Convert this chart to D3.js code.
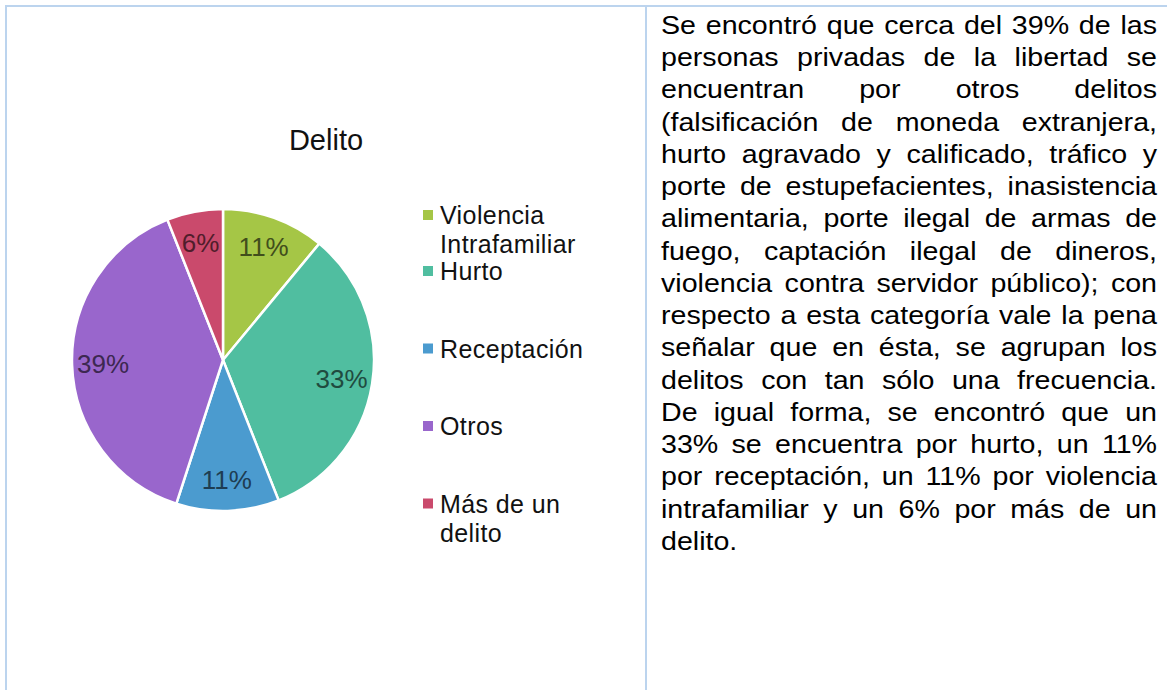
<!DOCTYPE html>
<html>
<head>
<meta charset="utf-8">
<script src="https://cdn.jsdelivr.net/npm/d3@7"></script>
<style>
  body { margin: 0; background: #fff; }
  svg { display: block; font-family: "Liberation Sans", Arial, sans-serif; }
</style>
</head>
<body>
<svg id="canvas"></svg>
<script>
// chart data
const categories = ['Violencia Intrafamiliar', 'Hurto', 'Receptación', 'Otros', 'Más de un delito'];
const legendLines = [['Violencia', 'Intrafamiliar'], ['Hurto'], ['Receptación'], ['Otros'], ['Más de un', 'delito']];
const percents = [11, 33, 11, 39, 6];
const colors = ['#a5c646', '#50bea0', '#4b9bcf', '#9966cc', '#ca4a6c'];
const title = 'Delito';

// paragraph on the right, one entry per printed line
const textLines = [
  'Se encontró que cerca del 39% de las',
  'personas privadas de la libertad se',
  'encuentran por otros delitos',
  '(falsificación de moneda extranjera,',
  'hurto agravado y calificado, tráfico y',
  'porte de estupefacientes, inasistencia',
  'alimentaria, porte ilegal de armas de',
  'fuego, captación ilegal de dineros,',
  'violencia contra servidor público); con',
  'respecto a esta categoría vale la pena',
  'señalar que en ésta, se agrupan los',
  'delitos con tan sólo una frecuencia.',
  'De igual forma, se encontró que un',
  '33% se encuentra por hurto, un 11%',
  'por receptación, un 11% por violencia',
  'intrafamiliar y un 6% por más de un',
  'delito.'
];

const W = 1167, H = 690;
let svg = d3.select('#canvas').attr('width', W).attr('height', H);

// table frame
const frame = '#bcd4ee';
svg.append('line').attr('x1', 5).attr('x2', W).attr('y1', 6).attr('y2', 6)
  .style('stroke', frame).style('stroke-width', 2);
svg.append('line').attr('x1', 6).attr('x2', 6).attr('y1', 5).attr('y2', H)
  .style('stroke', frame).style('stroke-width', 2);
svg.append('line').attr('x1', 646).attr('x2', 646).attr('y1', 5).attr('y2', H)
  .style('stroke', frame).style('stroke-width', 2);

// title
svg.append('text')
  .attr('x', 326).attr('y', 150)
  .attr('text-anchor', 'middle')
  .style('font-size', '29px')
  .style('fill', '#111')
  .text(title);

// pie
const cx = 223, cy = 360, r = 151;
let data = categories.map((c, i) => ({name: c, value: percents[i], color: colors[i]}));
let pie = d3.pie().value(d => d.value).sort(null);
let arc = d3.arc().innerRadius(0).outerRadius(r);
let labelArc = d3.arc().innerRadius(120).outerRadius(120);

let g = svg.append('g').attr('transform', `translate(${cx},${cy})`);
let slices = pie(data);

g.selectAll('path')
  .data(slices)
  .enter()
  .append('path')
  .attr('d', arc)
  .style('fill', d => d.data.color)
  .style('stroke', '#fff')
  .style('stroke-width', 2.5);

g.selectAll('text')
  .data(slices)
  .enter()
  .append('text')
  .attr('transform', d => `translate(${labelArc.centroid(d)})`)
  .attr('text-anchor', 'middle')
  .attr('dy', '0.36em')
  .style('font-size', '26px')
  .style('fill', d => d3.color(d.data.color).darker(2.6))
  .text(d => d.data.value + '%');

// legend: first baseline of each entry
const legBase = [224, 280, 357.5, 435, 512.5], legLine = 29;
let legend = svg.append('g');
legendLines.forEach((lines, i) => {
  let y = legBase[i];
  legend.append('rect')
    .attr('x', 423).attr('y', y - 14)
    .attr('width', 10).attr('height', 10)
    .style('fill', colors[i]);
  let t = legend.append('text')
    .style('font-size', '25px')
    .style('letter-spacing', '0.4px')
    .style('fill', '#111');
  lines.forEach((ln, j) => {
    t.append('tspan').attr('x', 440).attr('y', y + j * legLine).text(ln);
  });
});

// justified paragraph (glyphs slightly stretched sideways as in the scan)
const tx0 = 661, tx1 = 1157, tTop = 34, tStep = 32.25, sx = 1.1;
const boxW = (tx1 - tx0) / sx;
let para = svg.append('g')
  .attr('transform', `translate(${tx0},0) scale(${sx},1)`)
  .style('font-size', '26px').style('fill', '#000');
textLines.forEach((line, i) => {
  let y = tTop + i * tStep;
  let words = line.split(' ');
  let nodes = words.map(w => para.append('text').attr('y', y).text(w));
  let widths = nodes.map(n => n.node().getComputedTextLength());
  let total = d3.sum(widths);
  let last = i === textLines.length - 1;
  let gap = last || words.length < 2 ? 7.2 : (boxW - total) / (words.length - 1);
  let x = 0;
  nodes.forEach((n, k) => {
    n.attr('x', x);
    x += widths[k] + gap;
  });
});
</script>
</body>
</html>
